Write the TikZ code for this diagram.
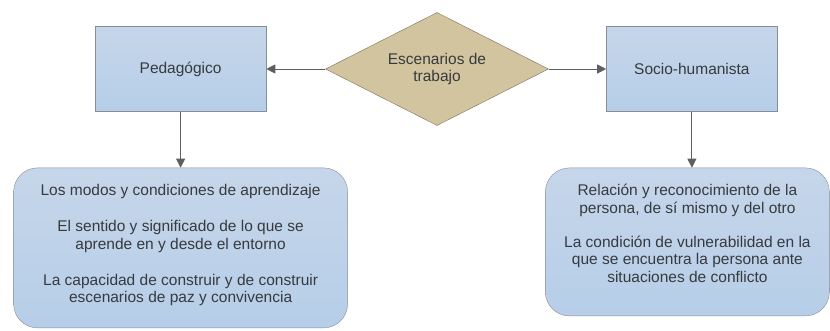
\documentclass[tikz,border=0pt]{standalone}
\usepackage{fontspec}
\setmainfont{Liberation Sans}
\usetikzlibrary{positioning,shapes.geometric,arrows.meta}

\definecolor{boxtop}{RGB}{198,214,234}
\definecolor{boxbot}{RGB}{182,206,232}
\definecolor{boxline}{RGB}{135,142,152}
\definecolor{tan}{RGB}{210,196,158}
\definecolor{tanline}{RGB}{120,112,90}
\definecolor{txt}{RGB}{55,58,62}
\definecolor{conn}{RGB}{95,95,95}

\tikzset{
  head/.style={draw=boxline, top color=boxtop, bottom color=boxbot,
    minimum width=171pt, minimum height=85pt, inner sep=0pt, text=txt,
    font=\fontsize{15.5}{17.5}\selectfont},
  hub/.style={diamond, draw=tanline, fill=tan, aspect=2, inner sep=0pt,
    minimum width=223pt, minimum height=113pt, text=txt, align=center,
    font=\fontsize{15.5}{17.5}\selectfont},
  info/.style={draw=boxline, top color=boxtop, bottom color=boxbot,
    rounded corners=24pt, text=txt, inner sep=0pt, text height=28pt,
    font=\fontsize{15.5}{17.5}\selectfont},
  link/.style={draw=conn, line width=0.9pt, -{Triangle[length=9pt,width=9pt]}}
}

\begin{document}
\begin{tikzpicture}[x=1pt, y=1pt]
  \useasboundingbox (0,0) rectangle (830,330);
  \node[hub] (esc) at (437,261) {Escenarios de\\trabajo};
  \node[head] (ped) [left=59pt of esc] {Pedagógico};
  \node[head] (soc) [right=57.5pt of esc] {Socio-humanista};
  \node[info, minimum width=334pt, text depth=132pt] (modos) [below=56pt of ped] {%
    \begin{tabular}[t]{@{}c@{}}
    Los modos y condiciones de aprendizaje\\[18.5pt]
    El sentido y significado de lo que se\\
    aprende en y desde el entorno\\[18.5pt]
    La capacidad de construir y de construir\\
    escenarios de paz y convivencia
    \end{tabular}};
  \node[info, minimum width=284pt, text depth=120pt] (rel) [below=56pt of soc, xshift=-4.5pt] {%
    \begin{tabular}[t]{@{}c@{}}
    Relación y reconocimiento de la\\
    persona, de sí mismo y del otro\\[16.5pt]
    La condición de vulnerabilidad en la\\
    que se encuentra la persona ante\\
    situaciones de conflicto
    \end{tabular}};
  \path[link] (esc.west) -- (ped.east);
  \path[link] (esc.east) -- (soc.west);
  \path[link] (ped.south) -- (ped.south |- modos.north);
  \path[link] (soc.south) -- (soc.south |- rel.north);
\end{tikzpicture}
\end{document}
